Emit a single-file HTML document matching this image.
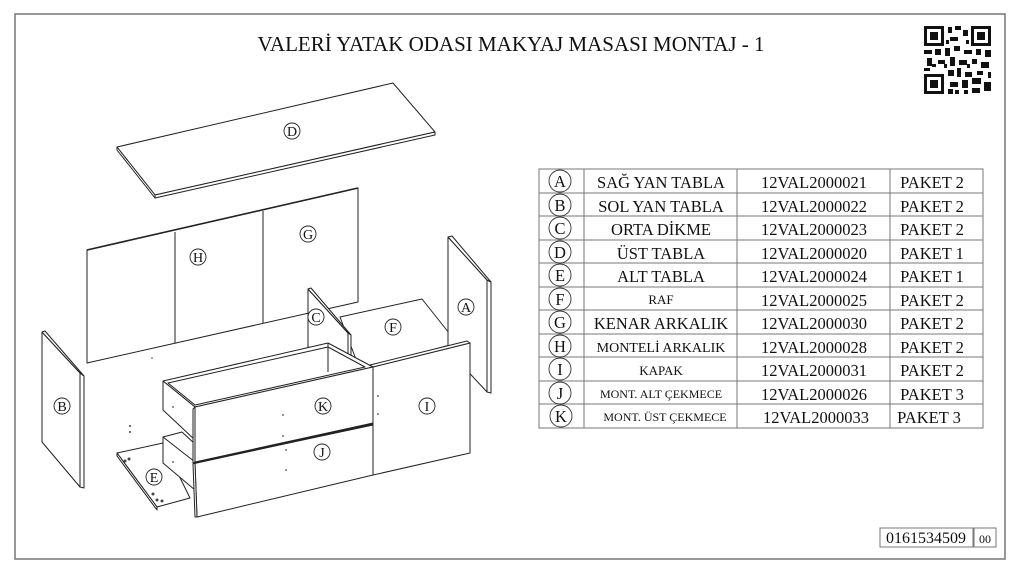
<!DOCTYPE html>
<html><head><meta charset="utf-8"><style>
html,body{margin:0;padding:0;background:#fff;}
svg{display:block;font-family:"Liberation Serif",serif;}
</style></head><body>
<svg width="1024" height="576" viewBox="0 0 1024 576" xmlns="http://www.w3.org/2000/svg">
<rect x="0" y="0" width="1024" height="576" fill="#fff"/>
<rect x="15" y="14" width="990" height="545" fill="none" stroke="#777" stroke-width="1.5"/>
<text x="511" y="51" font-size="21" text-anchor="middle" fill="#111">VALERİ YATAK ODASI MAKYAJ MASASI MONTAJ - 1</text>
<!-- QR -->
<g fill="#111">
<rect x="923" y="25" width="69" height="70" fill="#fff"/>
<rect x="924" y="26" width="20" height="20"/><rect x="927" y="29" width="14" height="14" fill="#fff"/><rect x="930" y="32" width="8" height="8"/>
<rect x="971" y="26" width="20" height="20"/><rect x="974" y="29" width="14" height="14" fill="#fff"/><rect x="977" y="32" width="8" height="8"/>
<rect x="924" y="74" width="20" height="20"/><rect x="927" y="77" width="14" height="14" fill="#fff"/><rect x="930" y="80" width="8" height="8"/>
<rect x="948" y="27" width="4" height="6"/><rect x="955" y="26" width="6" height="4"/><rect x="963" y="30" width="5" height="6"/><rect x="950" y="37" width="8" height="4"/>
<rect x="924" y="50" width="8" height="4"/><rect x="935" y="49" width="6" height="6"/><rect x="945" y="48" width="5" height="8"/><rect x="954" y="46" width="6" height="5"/>
<rect x="964" y="50" width="8" height="4"/><rect x="976" y="49" width="5" height="6"/><rect x="985" y="50" width="6" height="7"/><rect x="927" y="58" width="5" height="8"/>
<rect x="938" y="60" width="7" height="4"/><rect x="950" y="57" width="5" height="9"/><rect x="959" y="60" width="8" height="5"/><rect x="972" y="59" width="5" height="5"/>
<rect x="981" y="62" width="8" height="6"/><rect x="924" y="68" width="6" height="3"/><rect x="948" y="70" width="6" height="6"/><rect x="957" y="68" width="4" height="9"/>
<rect x="965" y="72" width="7" height="5"/><rect x="977" y="71" width="6" height="4"/><rect x="950" y="82" width="8" height="5"/><rect x="962" y="80" width="6" height="8"/>
<rect x="972" y="78" width="9" height="6"/><rect x="984" y="82" width="7" height="9"/><rect x="948" y="89" width="5" height="5"/><rect x="972" y="88" width="8" height="5"/>
<rect x="946" y="40" width="3" height="4"/><rect x="966" y="40" width="3" height="4"/><rect x="932" y="64" width="4" height="3"/><rect x="944" y="64" width="3" height="4"/>
<rect x="967" y="64" width="3" height="4"/><rect x="988" y="72" width="3" height="6"/><rect x="955" y="90" width="4" height="4"/><rect x="964" y="90" width="4" height="4"/>
</g>
<!-- drawing -->
<g stroke="#222" stroke-width="1" fill="#fff" stroke-linejoin="round">
<polygon points="87,250 358,188 358,302 87,363"/>
<line x1="175" y1="232" x2="175" y2="343"/>
<line x1="263" y1="211" x2="263" y2="323"/>
<line x1="87" y1="250" x2="358" y2="188" stroke-width="1.6"/>
<polygon points="117,147 393,83 435,132 155,195"/>
<polygon points="117,147 155,195 155,198 117,150"/>
<polygon points="155,195 435,132 435,135 155,198"/>
<polygon points="42,332 80,373 80,487 42,442"/>
<polygon points="80,373 84,376 84,488 80,487"/>
<polygon points="42,332 45,331 84,376 80,373"/>
<polygon points="340,317 422,299 457,343 360,370"/>
<polygon points="308,289 348,333 348,363 308,347"/>
<polygon points="348,333 351,335 351,364 348,363"/>
<polygon points="308,289 311,288 351,335 348,333"/>
<polygon points="448,237 487,280 487,392 448,350"/>
<polygon points="487,280 491,282 491,393 487,392"/>
<polygon points="448,237 452,236 491,282 487,280"/>
<polygon points="117,453 163,443 190,498 157,507"/>
<polygon points="117,453 157,507 157,510 117,456"/>
<polygon points="163,381 328,343 373,367 195,407"/>
<polygon points="168,383 328,347 365,367 195,405" fill="none"/>
<line x1="328" y1="343" x2="328" y2="372"/>
<polygon points="163,381 195,407 195,440 163,410"/>
<polygon points="163,437 182,432 195,444 195,462 163,463"/>
<polygon points="163,437 195,462 195,490 163,463"/>
<polygon points="195,407 373,367 373,423 195,462"/>
<polygon points="193,409 195,407 195,462 193,463"/>
<polygon points="195,463 373,425 373,475 197,517"/>
<polygon points="193,464 195,463 197,517 195,517"/>
<line x1="195" y1="463" x2="373" y2="424" stroke-width="1.8"/>
<polygon points="373,367 470,343 470,453 373,475"/>
<polygon points="370,365 467,341 470,343 373,367"/>
</g>
<g fill="#444">
<circle cx="283" cy="415" r="0.9"/><circle cx="283" cy="436" r="0.9"/><circle cx="286" cy="450" r="0.9"/><circle cx="286" cy="470" r="0.9"/>
<circle cx="378" cy="396" r="0.9"/><circle cx="378" cy="414" r="0.9"/><circle cx="173" cy="407" r="0.9"/><circle cx="173" cy="462" r="0.9"/>
<circle cx="125" cy="461" r="1.5"/><circle cx="129" cy="459" r="1.5"/><circle cx="157" cy="500" r="1.5"/><circle cx="162" cy="501" r="1.5"/><circle cx="153" cy="494" r="1.5"/>
<circle cx="130" cy="426" r="1"/><circle cx="130" cy="432" r="1"/><circle cx="152" cy="358" r="0.8"/>
</g>
<g font-size="14" text-anchor="middle" fill="#111">
<g fill="#fff" stroke="#222" stroke-width="0.9">
<circle cx="292" cy="131" r="8"/><circle cx="308" cy="234" r="8"/><circle cx="198" cy="257" r="8"/><circle cx="466" cy="307" r="8"/>
<circle cx="316" cy="317" r="8"/><circle cx="393" cy="327" r="8"/><circle cx="62" cy="406" r="8"/><circle cx="323" cy="406" r="8"/>
<circle cx="427" cy="406" r="8"/><circle cx="322" cy="452" r="8"/><circle cx="154" cy="477" r="8"/>
</g>
<text x="292" y="136">D</text><text x="308" y="239">G</text><text x="198" y="262">H</text><text x="466" y="312">A</text>
<text x="316" y="322">C</text><text x="393" y="332">F</text><text x="62" y="411">B</text><text x="323" y="411">K</text>
<text x="427" y="411">I</text><text x="322" y="457">J</text><text x="154" y="482">E</text>
</g>
<!-- table -->
<g stroke="#777" stroke-width="1" fill="none">
<rect x="539" y="169" width="444" height="259"/>
<line x1="584" y1="169" x2="584" y2="428"/><line x1="737" y1="169" x2="737" y2="428"/><line x1="890" y1="169" x2="890" y2="428"/>
<line x1="539" y1="193" x2="983" y2="193"/><line x1="539" y1="216" x2="983" y2="216"/><line x1="539" y1="240" x2="983" y2="240"/>
<line x1="539" y1="263" x2="983" y2="263"/><line x1="539" y1="287" x2="983" y2="287"/><line x1="539" y1="310" x2="983" y2="310"/>
<line x1="539" y1="334" x2="983" y2="334"/><line x1="539" y1="357" x2="983" y2="357"/><line x1="539" y1="381" x2="983" y2="381"/>
<line x1="539" y1="404" x2="983" y2="404"/>
</g>
<g stroke="#333" stroke-width="0.9" fill="none">
<circle cx="560" cy="181" r="11"/><circle cx="560" cy="205" r="11"/><circle cx="560" cy="228" r="11"/><circle cx="560" cy="252" r="11"/>
<circle cx="560" cy="275" r="11"/><circle cx="560" cy="299" r="11"/><circle cx="560" cy="322" r="11"/><circle cx="560" cy="346" r="11"/>
<circle cx="560" cy="369" r="11"/><circle cx="560" cy="393" r="11"/><circle cx="561" cy="416" r="11"/>
</g>
<g font-size="16.5" fill="#111" text-anchor="middle">
<text x="560" y="187">A</text><text x="560" y="211">B</text><text x="560" y="234">C</text><text x="560" y="258">D</text>
<text x="560" y="281">E</text><text x="560" y="305">F</text><text x="560" y="328">G</text><text x="560" y="352">H</text>
<text x="560" y="375">I</text><text x="560" y="399">J</text><text x="561" y="422">K</text>
<text x="661" y="188">SAĞ YAN TABLA</text><text x="661" y="212">SOL YAN TABLA</text><text x="661" y="235">ORTA DİKME</text>
<text x="661" y="259">ÜST TABLA</text><text x="661" y="282">ALT TABLA</text><text x="661" y="304" font-size="13">RAF</text>
<text x="661" y="329">KENAR ARKALIK</text><text x="661" y="352" font-size="14">MONTELİ ARKALIK</text><text x="661" y="375" font-size="13">KAPAK</text>
<text x="661" y="398" font-size="12">MONT. ALT ÇEKMECE</text><text x="665" y="421" font-size="12">MONT. ÜST ÇEKMECE</text>
<text x="814" y="188">12VAL2000021</text><text x="814" y="212">12VAL2000022</text><text x="814" y="235">12VAL2000023</text>
<text x="814" y="259">12VAL2000020</text><text x="814" y="282">12VAL2000024</text><text x="814" y="306">12VAL2000025</text>
<text x="814" y="329">12VAL2000030</text><text x="814" y="353">12VAL2000028</text><text x="814" y="376">12VAL2000031</text>
<text x="814" y="400">12VAL2000026</text><text x="816" y="423">12VAL2000033</text>
<text x="932" y="188">PAKET 2</text><text x="932" y="212">PAKET 2</text><text x="932" y="235">PAKET 2</text>
<text x="932" y="259">PAKET 1</text><text x="932" y="282">PAKET 1</text><text x="932" y="306">PAKET 2</text>
<text x="932" y="329">PAKET 2</text><text x="932" y="353">PAKET 2</text><text x="932" y="376">PAKET 2</text>
<text x="932" y="400">PAKET 3</text><text x="929" y="423">PAKET 3</text>
</g>
<g stroke="#777" fill="none"><rect x="880" y="528" width="93" height="19"/><rect x="974" y="528" width="22" height="19"/></g>
<text x="926" y="543" font-size="16" text-anchor="middle" fill="#111">0161534509</text>
<text x="985" y="543" font-size="12" text-anchor="middle" fill="#111">00</text>
</svg>
</body></html>
